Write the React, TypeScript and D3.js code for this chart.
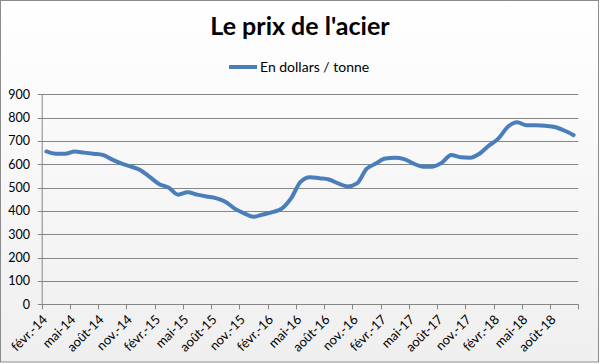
import React, { useEffect } from "react";
import * as d3 from "d3";

const title = "Le prix de l'acier";
const seriesName = "En dollars / tonne";
// monthly values from févr. 2014 to oct. 2018
const startYear = 2014;
const startMonth = 1; // February (0-based)
const values = [
  655, 645, 645, 655, 650, 645, 640, 620, 603, 590, 575, 545,
  515, 500, 470, 480, 470, 462, 455, 440, 410, 390, 375, 385,
  395, 410, 455, 525, 545, 540, 535, 518, 505, 518, 580, 603,
  625, 628, 622, 603, 590, 590, 607, 640, 630, 628, 645, 680,
  710, 760, 780, 767, 767, 765, 760, 745, 725,
];
const yTicks = [0, 100, 200, 300, 400, 500, 600, 700, 800, 900];
const monthNames = ["janv.", "févr.", "mars", "avr.", "mai", "juin", "juil.", "août", "sept.", "oct.", "nov.", "déc."];

const W = 600;
const H = 364;
const FONT = "Lato, 'Open Sans', sans-serif";

export default function App() {
  useEffect(() => {
    document.body.style.margin = "0";
  }, []);

  const left = 41.7;
  const right = 578.3;
  const top = 94.3;
  const bottom = 304.3;
  const n = values.length;

  const x = d3.scaleLinear().domain([0, n]).range([left, right]);
  const y = d3.scaleLinear().domain([0, 900]).range([bottom, top]);

  const line = d3
    .line<number>()
    .x((_, i) => x(i + 0.5))
    .y((d) => y(d))
    .curve(d3.curveMonotoneX);

  const tickIdx = d3.range(0, n + 1, 3);
  const label = (i: number) => {
    const m = (startMonth + i) % 12;
    const yr = startYear + Math.floor((startMonth + i) / 12);
    return `${monthNames[m]}-${String(yr).slice(2)}`;
  };

  return (
    <svg width={W} height={H} style={{ position: "absolute", left: 0, top: 0, display: "block" }}>
      <defs>
        <linearGradient id="bg" x1="0" y1="0" x2="0" y2="1">
          <stop offset="0" stopColor="#ffffff" />
          <stop offset="1" stopColor="#efefef" />
        </linearGradient>
      </defs>
      <rect x={0.5} y={0.5} width={598} height={361.5} fill="url(#bg)" stroke="#8c8c8c" strokeWidth={1} />
      <text x={300} y={35} textAnchor="middle" fontFamily={FONT} fontWeight="bold" fontSize={25} fill="#000">
        {title}
      </text>
      <line x1={229} x2={257} y1={67} y2={67} stroke="#4a7ebb" strokeWidth={4} />
      <text x={260} y={72} fontFamily={FONT} fontSize={14} fill="#000">
        {seriesName}
      </text>
      {yTicks.map((t) => (
        <g key={t}>
          <line x1={left - 4} x2={right} y1={Math.round(y(t)) + 0.5} y2={Math.round(y(t)) + 0.5} stroke="#868686" strokeWidth={1} />
          <text x={30} y={y(t) + 4.5} textAnchor="end" fontFamily={FONT} fontSize={12.5} fill="#000">
            {t}
          </text>
        </g>
      ))}
      <line x1={left + 0.5} x2={left + 0.5} y1={top} y2={bottom} stroke="#868686" />
      {tickIdx.map((i) => (
        <g key={i}>
          <line x1={Math.round(x(i)) + 0.5} x2={Math.round(x(i)) + 0.5} y1={bottom} y2={bottom + 5} stroke="#868686" />
          {i < n ? (
            <text
              transform={`translate(${x(i) + 6.5},${bottom + 16}) rotate(-45)`}
              textAnchor="end"
              fontFamily={FONT}
              fontSize={13}
              fill="#000"
            >
              {label(i)}
            </text>
          ) : null}
        </g>
      ))}
      <path d={line(values) || ""} fill="none" stroke="#4a7ebb" strokeWidth={4} strokeLinejoin="round" strokeLinecap="round" />
    </svg>
  );
}
